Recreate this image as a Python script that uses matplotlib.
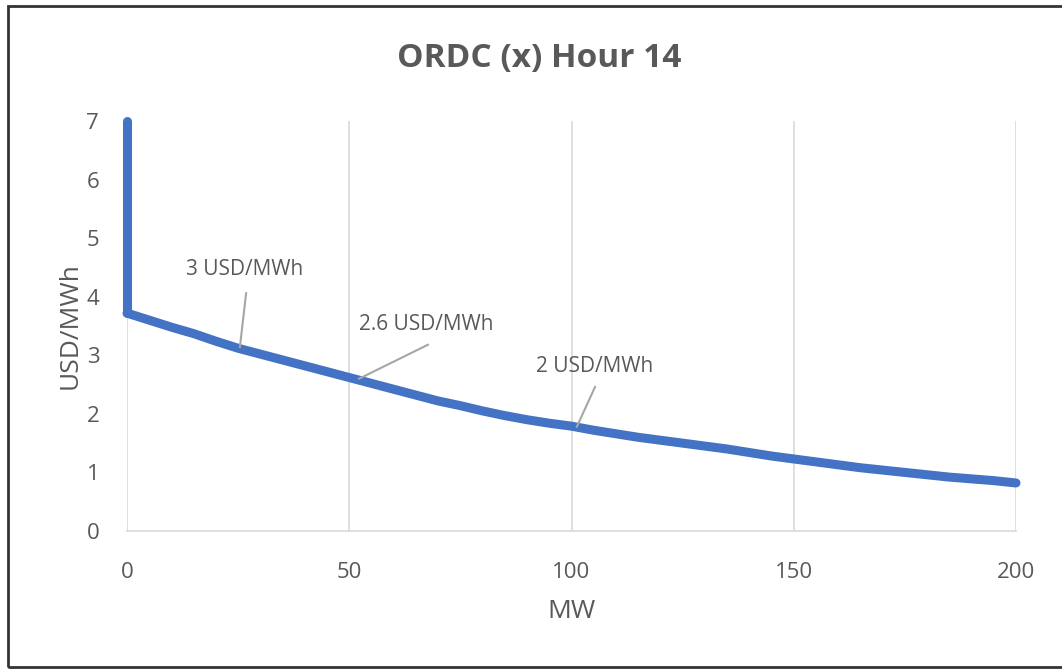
import numpy as np
import matplotlib.pyplot as plt
from matplotlib.patches import Rectangle

plt.rcParams['font.family'] = ['Open Sans', 'DejaVu Sans']

# vertical part of the curve at 0 MW
vert_x = [0, 0, 0, 0, 0, 0, 0, 0]
vert_y = [3.72, 4.2, 4.8, 5.4, 6.0, 6.4, 6.6, 7.0]

# sloping part, read every 5 MW
mw = [0, 5, 10, 15, 20, 25, 30, 35, 40, 45, 50, 55, 60, 65, 70, 75, 80, 85, 90, 95,
      100, 105, 110, 115, 120, 125, 130, 135, 140, 145, 150, 155, 160, 165, 170, 175,
      180, 185, 190, 195, 200]
price = [3.72, 3.60, 3.48, 3.37, 3.24, 3.12, 3.02, 2.92, 2.82, 2.72, 2.62, 2.52, 2.42,
         2.32, 2.22, 2.14, 2.05, 1.97, 1.90, 1.84, 1.79, 1.72, 1.66, 1.60, 1.55, 1.50,
         1.45, 1.40, 1.34, 1.28, 1.23, 1.18, 1.13, 1.08, 1.04, 1.00, 0.96, 0.92, 0.89,
         0.86, 0.82]

labels = ['3 USD/MWh', '2.6 USD/MWh', '2 USD/MWh']
label_pts = [(25.4, 3.14), (52.2, 2.60), (101.2, 1.78)]
label_txt = [(26.8, 4.06), (67.7, 3.18), (105.3, 2.46)]
label_pos = [(26.4, 4.46), (67.3, 3.52), (105.1, 2.80)]

blue = '#4472C4'
grey = '#595959'

fig = plt.figure(figsize=(10.62, 6.69), dpi=100)
ax = fig.add_axes([127 / 1062, 1 - 531 / 669, 889 / 1062, 410 / 669])

ax.plot(vert_x, vert_y, color=blue, lw=6.5, solid_capstyle='round', zorder=3, clip_on=False)
ax.plot(mw, price, color=blue, lw=6.5, solid_capstyle='round', zorder=3, clip_on=False)

for lab, p, t, pos in zip(labels, label_pts, label_txt, label_pos):
    ax.plot([t[0], p[0]], [t[1], p[1]], color='#A6A6A6', lw=1.5, zorder=4)
    ax.text(pos[0], pos[1], lab, ha='center', va='center', fontsize=15, color=grey)

ax.set_xlim(0, 200)
ax.set_ylim(0, 7)
ax.set_xticks([0, 50, 100, 150, 200])
ax.set_yticks(range(8))
ax.grid(axis='x', color='#D9D9D9', lw=1.2)
ax.set_axisbelow(True)
for s in ['top', 'right', 'left']:
    ax.spines[s].set_visible(False)
ax.spines['bottom'].set_color('#D9D9D9')
ax.spines['bottom'].set_linewidth(1.2)
ax.tick_params(length=0, labelsize=16, colors=grey)
ax.tick_params(axis='x', pad=22)
ax.tick_params(axis='y', pad=20)
ax.set_xlabel('MW', fontsize=19, color=grey, labelpad=12)
ax.set_ylabel('USD/MWh', fontsize=19, color=grey, labelpad=3)
fig.text(539 / 1062, 1 - 58 / 669, 'ORDC (x) Hour 14', ha='center', va='center',
         fontsize=24, fontweight='bold', color=grey)

fig.patches.append(Rectangle((8 / 1062, 2 / 669), 1.1, 661 / 669, transform=fig.transFigure,
                             fill=False, edgecolor='#333333', lw=2))

fig.savefig('out.png', dpi=100)
